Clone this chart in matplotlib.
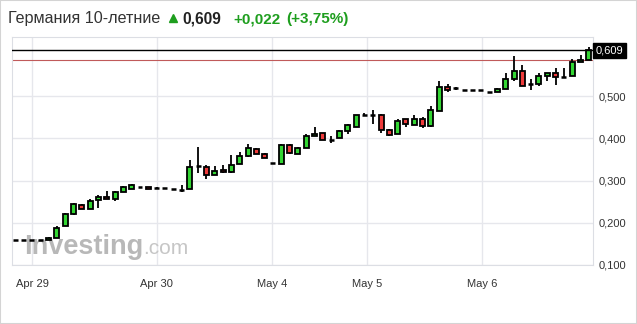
"""Germany 10Y yield, hourly candles (investing.com style)."""

import matplotlib

matplotlib.use("Agg")
import matplotlib.pyplot as plt
from matplotlib.patches import Rectangle
from matplotlib.transforms import blended_transform_factory

W, H = 637, 324

opens = [
    0.160, 0.160, 0.160, 0.160, 0.160, 0.164, 0.193, 0.221, 0.243, 0.233,
    0.254, 0.261, 0.256, 0.274, 0.281, 0.284, 0.285, 0.283, 0.282, 0.281,
    0.278, 0.280, 0.334, 0.333, 0.314, 0.325, 0.320, 0.340, 0.359, 0.375,
    0.364, 0.341, 0.340, 0.385, 0.364, 0.378, 0.406, 0.412, 0.397, 0.402,
    0.418, 0.428, 0.455, 0.455, 0.456, 0.421, 0.411, 0.445, 0.433, 0.445,
    0.430, 0.466, 0.521, 0.520, 0.516, 0.516, 0.514, 0.510, 0.511, 0.518,
    0.542, 0.561, 0.529, 0.528, 0.547, 0.555, 0.545, 0.548, 0.582, 0.587,
]
highs = [
    0.160, 0.160, 0.160, 0.160, 0.166, 0.192, 0.223, 0.248, 0.245, 0.256,
    0.266, 0.275, 0.275, 0.288, 0.291, 0.284, 0.286, 0.286, 0.282, 0.281,
    0.290, 0.348, 0.379, 0.337, 0.334, 0.336, 0.360, 0.367, 0.386, 0.378,
    0.366, 0.341, 0.387, 0.386, 0.379, 0.411, 0.426, 0.414, 0.406, 0.420,
    0.435, 0.456, 0.460, 0.467, 0.457, 0.422, 0.446, 0.446, 0.455, 0.450,
    0.476, 0.536, 0.528, 0.522, 0.516, 0.516, 0.514, 0.510, 0.519, 0.554,
    0.596, 0.573, 0.541, 0.554, 0.556, 0.567, 0.567, 0.589, 0.599, 0.617,
]
lows = [
    0.160, 0.160, 0.160, 0.160, 0.160, 0.164, 0.193, 0.218, 0.233, 0.233,
    0.234, 0.256, 0.252, 0.274, 0.281, 0.284, 0.280, 0.279, 0.282, 0.281,
    0.272, 0.280, 0.317, 0.303, 0.314, 0.318, 0.319, 0.340, 0.355, 0.364,
    0.354, 0.341, 0.340, 0.364, 0.362, 0.378, 0.406, 0.397, 0.389, 0.402,
    0.411, 0.428, 0.454, 0.435, 0.414, 0.405, 0.411, 0.427, 0.433, 0.424,
    0.427, 0.466, 0.511, 0.516, 0.516, 0.516, 0.514, 0.510, 0.511, 0.518,
    0.537, 0.525, 0.516, 0.524, 0.537, 0.526, 0.543, 0.548, 0.582, 0.587,
]
closes = [
    0.160, 0.160, 0.160, 0.160, 0.163, 0.187, 0.220, 0.245, 0.233, 0.252,
    0.261, 0.256, 0.273, 0.284, 0.290, 0.284, 0.280, 0.283, 0.282, 0.281,
    0.278, 0.333, 0.334, 0.314, 0.323, 0.320, 0.338, 0.359, 0.377, 0.364,
    0.354, 0.341, 0.385, 0.366, 0.378, 0.406, 0.411, 0.397, 0.397, 0.418,
    0.431, 0.455, 0.455, 0.455, 0.419, 0.409, 0.442, 0.435, 0.445, 0.429,
    0.468, 0.521, 0.516, 0.520, 0.516, 0.516, 0.514, 0.510, 0.518, 0.542,
    0.559, 0.525, 0.529, 0.547, 0.555, 0.545, 0.545, 0.582, 0.586, 0.609,
]

day_labels = ["Apr 29", "Apr 30", "May 4", "May 5", "May 6"]
day_positions = [2.0, 17.0, 30.9, 42.3, 56.2]  # candle index where each day starts
y_ticks = [0.1, 0.2, 0.3, 0.4, 0.5]
last_price = 0.609
prev_close = 0.587

GREEN = "#33d633"
RED = "#ee3b3b"
TEXT_GREEN = "#1e9e1e"
GRID = "#e6e7ec"

plt.rcParams["font.family"] = ["Liberation Sans", "DejaVu Sans"]

fig = plt.figure(figsize=(W / 100, H / 100), dpi=100)
ax = fig.add_axes([12 / W, 59 / H, 581 / W, 228 / H])

x = list(range(len(opens)))
ax.vlines(x, lows, highs, color="black", linewidth=1.3, zorder=3)
for i in x:
    o, c = opens[i], closes[i]
    if abs(c - o) < 0.002:
        ax.hlines(o, i - 0.3, i + 0.3, color="black", linewidth=1.8, zorder=4)
    else:
        ax.bar(i, c - o, bottom=o, width=0.6,
               color=GREEN if c > o else RED,
               edgecolor="black", linewidth=1.3, zorder=4)

ax.axhline(last_price, color="black", linewidth=1.0, zorder=5)
ax.axhline(prev_close, color="#c05a5a", linewidth=0.8, zorder=2)

ax.set_xlim(-0.4, 69.5)
ax.set_ylim(0.1, 0.6405)
ax.set_xticks(day_positions)
ax.set_xticklabels(day_labels)
ax.set_yticks(y_ticks)
ax.set_yticklabels([f"{v:.3f}".replace(".", ",") for v in y_ticks])
ax.yaxis.tick_right()
ax.tick_params(axis="both", length=0, labelsize=8, colors="#333333")
ax.tick_params(axis="x", pad=10)
ax.tick_params(axis="y", pad=4)
ax.grid(True, color=GRID, linewidth=1.0, zorder=0)
ax.set_axisbelow(True)
for spine in ax.spines.values():
    spine.set_color("#dcdee4")

# current price badge on the right axis
trans = blended_transform_factory(ax.transAxes, ax.transData)
ax.text(1.004, last_price, "0,609", transform=trans, ha="left", va="center",
        fontsize=8, color="white",
        bbox=dict(boxstyle="square,pad=0.25", fc="black", ec="black"))

# watermark
ax.text(24 / W, 1 - 254 / H, "Investing", transform=fig.transFigure,
        fontsize=19.5, fontweight="bold", color="#b8b8b8", zorder=1)
ax.text(143 / W, 1 - 254 / H, ".com", transform=fig.transFigure,
        fontsize=15, color="#c6c6c6", zorder=1)

# header
ty = 1 - 19 / H
fig.text(8 / W, ty, "Германия 10-летние", fontsize=11.6, color="#333333", va="center")
fig.lines.append(plt.Line2D([173 / W], [ty + 0.004], marker="^", markersize=6,
                            color=TEXT_GREEN, transform=fig.transFigure))
fig.text(182 / W, ty, "0,609", fontsize=11.2, fontweight="bold", color="#222222", va="center")
fig.text(233 / W, ty, "+0,022", fontsize=11, fontweight="bold", color=TEXT_GREEN, va="center")
fig.text(286 / W, ty, "(+3,75%)", fontsize=11, fontweight="bold", color=TEXT_GREEN, va="center")

# outer frame
fig.patches.append(Rectangle((0, 0), 1, 1, transform=fig.transFigure, fill=False,
                             edgecolor="#d4d4d4", linewidth=1.5))

fig.savefig("out.png", dpi=100)
